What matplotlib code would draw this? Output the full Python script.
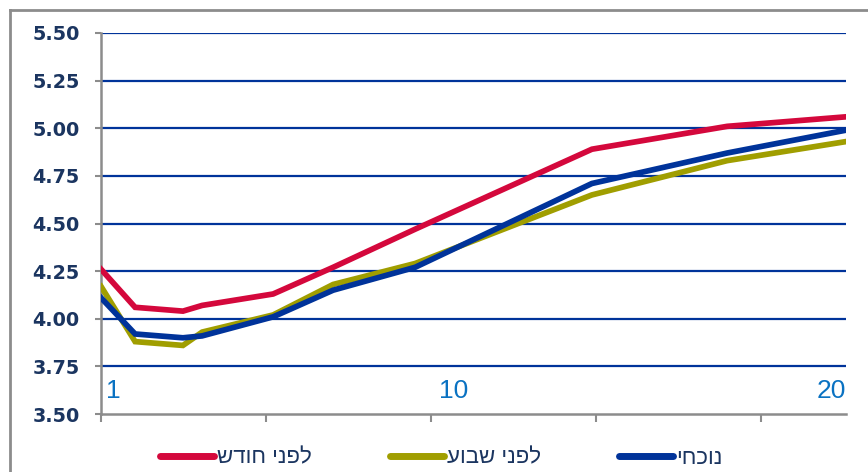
#yield curve chart - current vs week ago vs month ago

#1. Libraries
import matplotlib
matplotlib.use("Agg")
import matplotlib.pyplot as plt
from matplotlib.lines import Line2D

#2. Data
#maturity in years
years = [1, 1.87, 3.09, 3.58, 5.39, 6.92, 9.01, 13.52, 16.97, 20]

month_ago = [4.26, 4.06, 4.04, 4.07, 4.13, 4.27, 4.47, 4.89, 5.01, 5.06]
week_ago  = [4.17, 3.88, 3.86, 3.93, 4.02, 4.18, 4.29, 4.65, 4.83, 4.93]
current   = [4.11, 3.92, 3.90, 3.91, 4.01, 4.15, 4.27, 4.71, 4.87, 4.99]

series_names = ["לפני חודש", "לפני שבוע", "נוכחי"]
y_ticks = [3.50, 3.75, 4.00, 4.25, 4.50, 4.75, 5.00, 5.25, 5.50]
x_labels = ["1", "10", "20"]

#3. Style
RED = "#D4083C"
OLIVE = "#A09E00"
BLUE = "#00339A"
NAVY = "#1B3560"
GRAY = "#8C8C8C"
LABEL_BLUE = "#0A72C2"

def visual(text):
    #matplotlib has no bidi support, so flip hebrew to its visual order
    return text[::-1]

#4. Figure
fig = plt.figure(figsize=(8.68, 4.72), dpi=100)
ax = fig.add_axes([101 / 868, 58 / 472, 745 / 868, 381 / 472])

for yv in y_ticks[1:]:
    ax.axhline(yv, color=BLUE, lw=1.6, zorder=1)

lw = 4.1
ax.plot(years, month_ago, color=RED, lw=lw, solid_joinstyle="miter", label=visual(series_names[0]), zorder=3)
ax.plot(years, week_ago, color=OLIVE, lw=lw, solid_joinstyle="miter", label=visual(series_names[1]), zorder=3)
ax.plot(years, current, color=BLUE, lw=lw, solid_joinstyle="miter", label=visual(series_names[2]), zorder=4)

ax.set_xlim(1, 20)
ax.set_ylim(3.5, 5.5)

#y axis
ax.set_yticks(y_ticks)
ax.set_yticklabels([f"{v:.2f}" for v in y_ticks])
ax.tick_params(axis="y", length=4.5, width=1.5, color=GRAY, pad=11,
               labelsize=13.8, labelcolor=NAVY)
for lab in ax.get_yticklabels():
    lab.set_fontweight("bold")
    lab.set_fontfamily("DejaVu Sans")

#x axis - tick marks only, labels go inside the plot
step = (20 - 1) * 165 / 745
ax.set_xticks([1 + k * step for k in range(5)])
ax.set_xticklabels([])
ax.tick_params(axis="x", length=6, width=1.5, color=GRAY)

label_y = 3.62
ax.text(1.12, label_y, x_labels[0], ha="left", va="center", color=LABEL_BLUE,
        fontsize=19, family="Liberation Sans")
ax.text(10, label_y, x_labels[1], ha="center", va="center", color=LABEL_BLUE,
        fontsize=19, family="Liberation Sans")
ax.text(20, label_y, x_labels[2], ha="right", va="center", color=LABEL_BLUE,
        fontsize=19, family="Liberation Sans")

for side in ["top", "right"]:
    ax.spines[side].set_visible(False)
for side in ["left", "bottom"]:
    ax.spines[side].set_color(GRAY)
    ax.spines[side].set_linewidth(1.8)

#5. Legend
handles = [Line2D([0], [0], color=c, lw=5, solid_capstyle="round") for c in [RED, OLIVE, BLUE]]
leg = fig.legend(handles, [visual(n) for n in series_names], loc="center",
                 bbox_to_anchor=(441 / 868, 14 / 472), ncol=3, frameon=False,
                 prop={"family": "Liberation Sans", "size": 16},
                 handlelength=2.45, handletextpad=0.12, columnspacing=3.5)
for t in leg.get_texts():
    t.set_color(NAVY)

#6. Outer frame
fig.add_artist(Line2D([10 / 868, 10 / 868], [0, 1 - 10 / 472], transform=fig.transFigure, color=GRAY, lw=2))
fig.add_artist(Line2D([10 / 868, 1], [1 - 10 / 472, 1 - 10 / 472], transform=fig.transFigure, color=GRAY, lw=2))

fig.savefig("out.png", dpi=100)
